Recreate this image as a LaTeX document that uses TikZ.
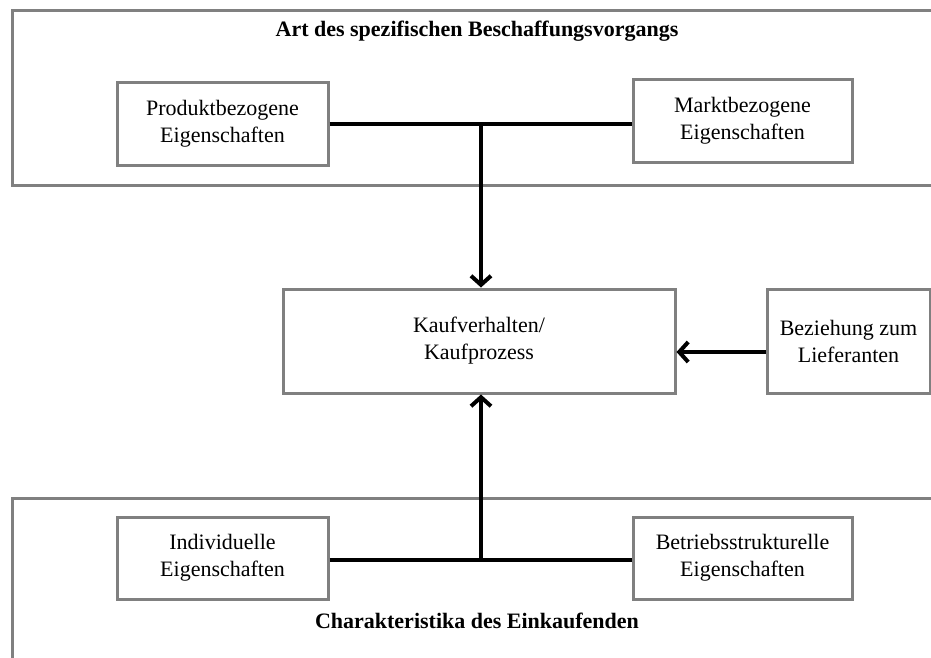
\documentclass[tikz,border=0pt]{standalone}
\usepackage{fontspec}
\setmainfont{Liberation Serif}
\usetikzlibrary{arrows.meta}
\begin{document}
\begin{tikzpicture}[x=1pt,y=-1pt,
  graybox/.style={draw=black!50, line width=3pt, fill=white, inner sep=0pt, align=center,
     font=\fontsize{22}{27}\selectfont},
  outerbox/.style={draw=black!50, line width=3pt, inner sep=0pt},
  heading/.style={font=\fontsize{22}{27}\selectfont\bfseries, inner sep=0pt},
  conn/.style={line width=4pt, black},
  arr/.style={conn, -{Straight Barb[length=9pt,width=20pt,line width=4pt]}}]
\useasboundingbox (0,0) rectangle (931,657);
% outer frames
\node[outerbox, minimum width=930pt, minimum height=175pt] (top) at (477,97.5) {};
\node[outerbox, minimum width=930pt, minimum height=175pt] (bottom) at (477,585.5) {};
\node[heading] (toptitle) at (477,31) {Art des spezifischen Beschaffungsvorgangs};
\node[heading] (bottitle) at (477,621) {Charakteristika des Einkaufenden};
% inner boxes
\node[graybox, minimum width=211pt, minimum height=83pt] (prod) at (222.5,123.5) {Produktbezogene\\Eigenschaften};
\node[graybox, minimum width=219pt, minimum height=83pt] (markt) at (742.5,121) {Marktbezogene\\Eigenschaften};
\node[graybox, minimum width=392pt, minimum height=104pt] (kauf) at (479,341) {Kaufverhalten/\\Kaufprozess};
\node[graybox, minimum width=163pt, minimum height=104pt] (bez) at (848.5,341) {Beziehung zum\\Lieferanten};
\node[graybox, minimum width=211pt, minimum height=82pt] (ind) at (222.5,558) {Individuelle\\Eigenschaften};
\node[graybox, minimum width=219pt, minimum height=82pt] (betr) at (742.5,558) {Betriebsstrukturelle\\Eigenschaften};
% connectors
\coordinate (jt) at (481,124);
\coordinate (jb) at (481,560);
\draw[conn] (prod.east |- jt) -- (markt.west |- jt);
\draw[arr] (jt) -- (jt |- kauf.north);
\draw[conn] (ind.east |- jb) -- (betr.west |- jb);
\draw[arr] (jb) -- (jb |- kauf.south);
\draw[arr] (bez.west |- 0,352) -- (kauf.east |- 0,352);
\end{tikzpicture}
\end{document}
